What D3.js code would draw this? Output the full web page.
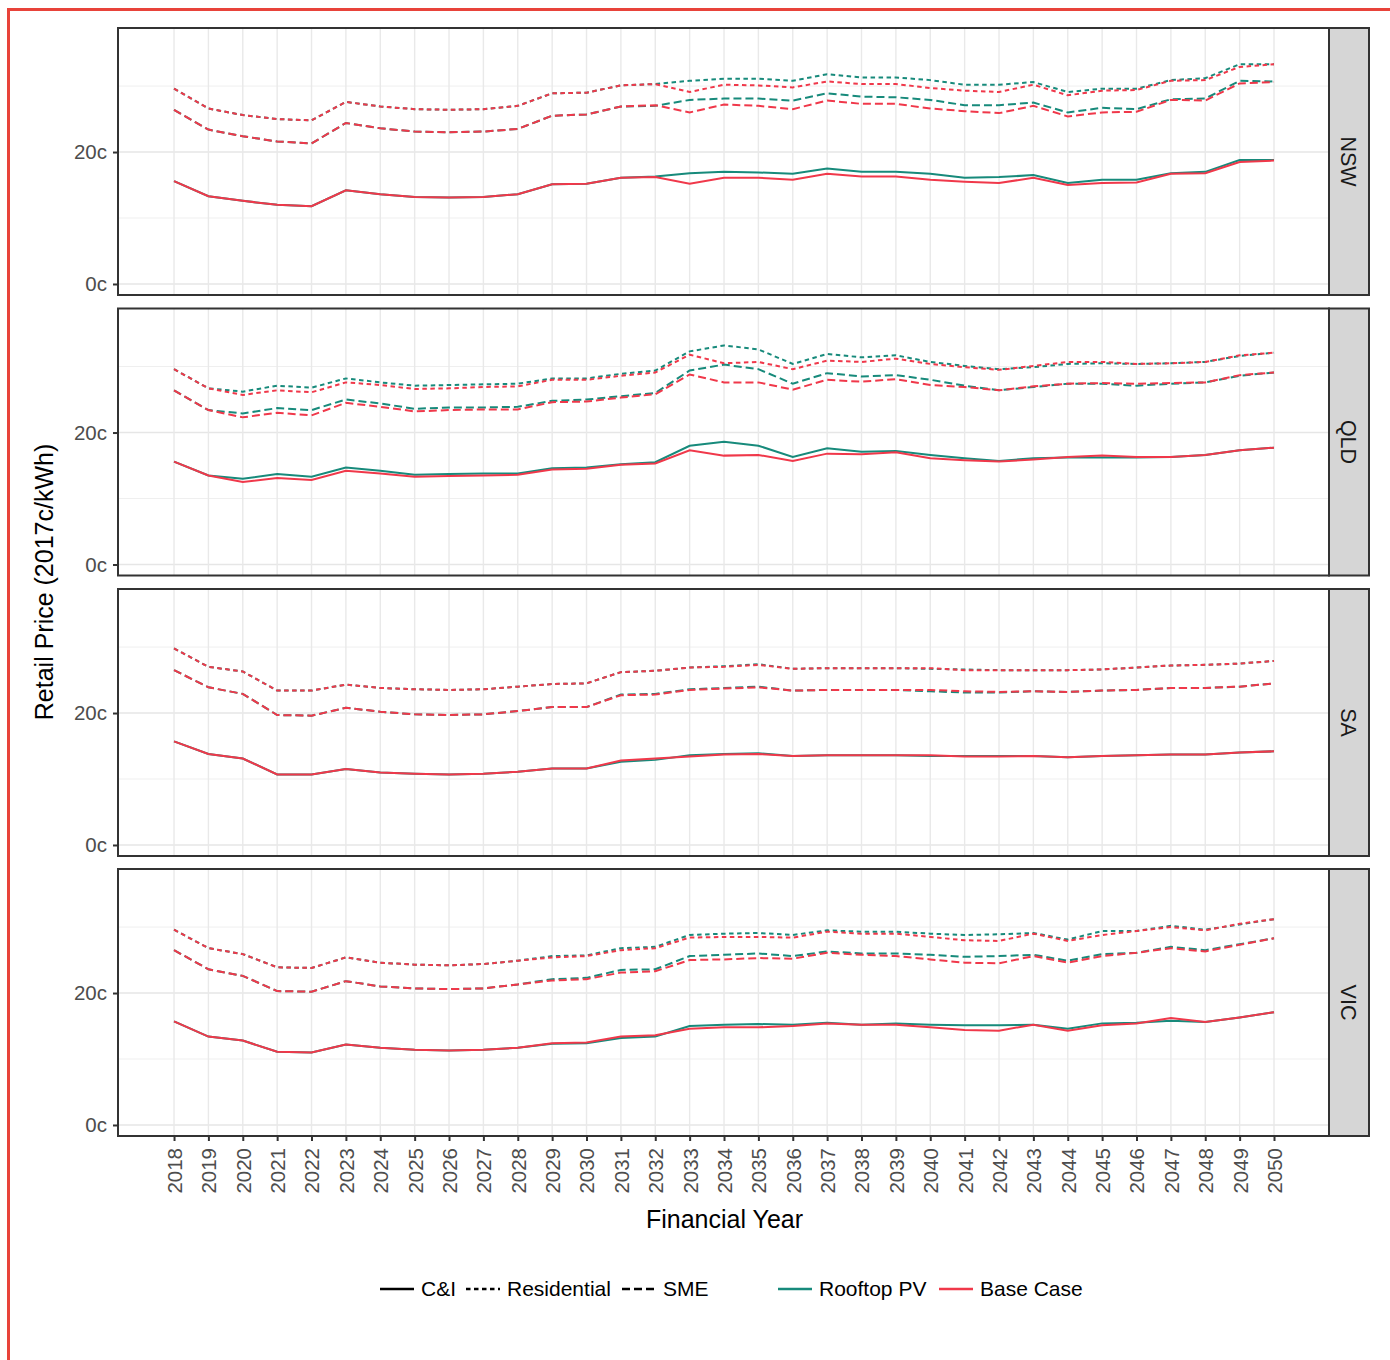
<!DOCTYPE html>
<html><head><meta charset="utf-8">
<script src="https://cdn.jsdelivr.net/npm/d3@7"></script>
<style>
html,body{margin:0;padding:0;background:#fff;}
svg{display:block;font-family:"Liberation Sans",Arial,Helvetica,sans-serif;}
</style></head>
<body><svg id="chart" width="1390" height="1360"></svg>
<script>
const years = d3.range(2018, 2051);
const states = ["NSW", "QLD", "SA", "VIC"];
const yTicks = [0, 20];
const yMinor = [10, 30];

// NSW
const nswResPV   = [29.6,26.6,25.6,25.0,24.8,27.6,26.9,26.5,26.4,26.5,27.0,28.9,29.0,30.1,30.3,30.8,31.1,31.1,30.8,31.8,31.3,31.3,30.9,30.2,30.2,30.6,29.1,29.6,29.6,30.9,31.2,33.3,33.3];
const nswResBase = [29.6,26.6,25.6,25.0,24.8,27.6,26.9,26.5,26.4,26.5,27.0,28.9,29.0,30.1,30.3,29.1,30.2,30.1,29.8,30.7,30.3,30.3,29.7,29.3,29.1,30.2,28.6,29.3,29.4,30.8,30.9,32.9,33.3];
const nswSmePV   = [26.4,23.4,22.4,21.6,21.3,24.4,23.6,23.1,23.0,23.1,23.5,25.5,25.7,26.9,27.0,27.9,28.1,28.1,27.8,28.9,28.4,28.3,27.9,27.1,27.1,27.5,26.0,26.7,26.5,28.0,28.1,30.8,30.7];
const nswSmeBase = [26.4,23.4,22.4,21.6,21.3,24.4,23.6,23.1,23.0,23.1,23.5,25.5,25.7,26.9,27.1,26.0,27.2,27.0,26.5,27.8,27.3,27.3,26.6,26.2,25.9,27.0,25.4,26.0,26.1,27.9,27.8,30.4,30.6];
const nswCiPV    = [15.6,13.3,12.6,12.0,11.8,14.2,13.6,13.2,13.1,13.2,13.6,15.1,15.2,16.1,16.3,16.8,17.0,16.9,16.7,17.5,17.0,17.0,16.7,16.1,16.2,16.5,15.3,15.8,15.8,16.8,17.0,18.8,18.8];
const nswCiBase  = [15.6,13.3,12.6,12.0,11.8,14.2,13.6,13.2,13.1,13.2,13.6,15.1,15.2,16.1,16.2,15.2,16.1,16.1,15.8,16.7,16.3,16.3,15.8,15.5,15.3,16.1,15.0,15.3,15.4,16.7,16.8,18.5,18.7];
// QLD
const qldResPV   = [29.6,26.7,26.2,27.1,26.8,28.2,27.6,27.1,27.2,27.3,27.4,28.2,28.2,28.9,29.4,32.3,33.2,32.6,30.4,31.9,31.4,31.7,30.7,30.1,29.6,29.9,30.4,30.5,30.4,30.5,30.7,31.6,32.1];
const qldResBase = [29.6,26.7,25.7,26.4,26.1,27.6,27.2,26.6,26.7,26.9,27.0,28.0,28.0,28.6,29.1,31.8,30.5,30.7,29.6,30.9,30.7,31.2,30.4,29.9,29.5,30.1,30.7,30.7,30.4,30.5,30.7,31.7,32.1];
const qldSmePV   = [26.4,23.4,22.9,23.7,23.4,25.0,24.4,23.6,23.8,23.8,23.9,24.8,25.0,25.5,26.0,29.4,30.3,29.6,27.4,29.0,28.5,28.7,28.0,27.1,26.4,26.9,27.4,27.4,27.1,27.4,27.6,28.6,29.1];
const qldSmeBase = [26.4,23.4,22.3,23.0,22.6,24.5,23.9,23.2,23.4,23.5,23.5,24.6,24.7,25.3,25.8,28.8,27.6,27.6,26.5,28.0,27.7,28.1,27.2,26.9,26.4,27.0,27.4,27.5,27.4,27.5,27.6,28.7,29.1];
const qldCiPV    = [15.6,13.5,13.0,13.7,13.3,14.7,14.2,13.6,13.7,13.8,13.8,14.6,14.7,15.2,15.5,18.0,18.6,18.0,16.3,17.6,17.1,17.2,16.6,16.1,15.7,16.1,16.2,16.2,16.2,16.3,16.6,17.3,17.7];
const qldCiBase  = [15.6,13.5,12.5,13.1,12.8,14.2,13.8,13.3,13.4,13.5,13.6,14.4,14.5,15.1,15.3,17.3,16.5,16.6,15.7,16.8,16.7,17.0,16.1,15.8,15.6,15.9,16.3,16.5,16.3,16.3,16.6,17.3,17.7];
// SA
const saResPV    = [29.8,27.0,26.3,23.4,23.4,24.3,23.8,23.6,23.5,23.6,24.0,24.4,24.5,26.2,26.4,26.9,27.1,27.4,26.7,26.8,26.8,26.8,26.7,26.6,26.5,26.5,26.5,26.6,26.9,27.2,27.3,27.5,27.9];
const saResBase  = [29.8,27.0,26.3,23.4,23.4,24.3,23.8,23.6,23.5,23.6,24.0,24.4,24.5,26.2,26.4,26.9,27.0,27.3,26.7,26.8,26.8,26.8,26.8,26.5,26.5,26.5,26.5,26.6,26.9,27.2,27.3,27.5,27.9];
const saSmePV    = [26.5,23.9,22.9,19.7,19.6,20.8,20.2,19.8,19.7,19.8,20.3,20.9,20.9,22.8,22.9,23.6,23.8,24.0,23.4,23.5,23.5,23.5,23.3,23.1,23.1,23.3,23.2,23.4,23.5,23.8,23.8,24.0,24.5];
const saSmeBase  = [26.5,23.9,22.9,19.7,19.6,20.8,20.2,19.8,19.7,19.8,20.3,20.9,20.9,22.7,22.8,23.5,23.7,23.9,23.4,23.5,23.5,23.5,23.5,23.3,23.2,23.3,23.2,23.4,23.5,23.8,23.8,24.0,24.5];
const saCiPV     = [15.7,13.8,13.1,10.7,10.7,11.5,11.0,10.8,10.7,10.8,11.1,11.6,11.6,12.6,12.9,13.6,13.8,13.9,13.5,13.6,13.6,13.6,13.5,13.5,13.5,13.5,13.3,13.5,13.6,13.7,13.7,14.0,14.2];
const saCiBase   = [15.7,13.8,13.1,10.7,10.7,11.5,11.0,10.8,10.7,10.8,11.1,11.6,11.6,12.8,13.1,13.4,13.7,13.8,13.5,13.6,13.6,13.6,13.6,13.4,13.4,13.5,13.3,13.5,13.6,13.7,13.7,14.0,14.2];
// VIC
const vicResPV   = [29.6,26.8,25.9,23.9,23.8,25.4,24.6,24.3,24.2,24.4,24.9,25.6,25.7,26.8,27.0,28.8,29.0,29.1,28.8,29.5,29.3,29.3,29.0,28.8,28.9,29.1,28.1,29.4,29.4,30.2,29.6,30.4,31.2];
const vicResBase = [29.6,26.8,25.9,23.9,23.8,25.4,24.6,24.3,24.2,24.4,24.9,25.4,25.6,26.5,26.8,28.4,28.5,28.5,28.4,29.3,29.0,29.0,28.5,28.0,27.9,29.0,27.9,28.8,29.4,30.0,29.5,30.5,31.2];
const vicSmePV   = [26.5,23.6,22.6,20.3,20.2,21.8,21.0,20.7,20.6,20.7,21.3,22.1,22.3,23.5,23.6,25.6,25.8,26.0,25.6,26.3,26.0,26.0,25.8,25.5,25.6,25.8,24.9,25.9,26.1,27.0,26.5,27.4,28.3];
const vicSmeBase = [26.5,23.6,22.6,20.3,20.2,21.8,21.0,20.7,20.6,20.7,21.3,21.9,22.1,23.1,23.3,25.0,25.1,25.3,25.2,26.1,25.8,25.6,25.1,24.6,24.5,25.6,24.6,25.6,26.1,26.8,26.3,27.3,28.3];
const vicCiPV    = [15.7,13.4,12.8,11.1,11.0,12.2,11.7,11.4,11.3,11.4,11.7,12.3,12.4,13.2,13.4,15.0,15.2,15.3,15.2,15.5,15.2,15.4,15.2,15.1,15.1,15.2,14.6,15.4,15.5,15.8,15.6,16.3,17.1];
const vicCiBase  = [15.7,13.4,12.8,11.1,11.0,12.2,11.7,11.4,11.3,11.4,11.7,12.4,12.5,13.4,13.6,14.6,14.8,14.8,15.0,15.4,15.2,15.2,14.8,14.4,14.3,15.2,14.3,15.1,15.4,16.2,15.6,16.3,17.1];

const customerTypes = ["C&I", "Residential", "SME"];
const scenarios = ["Rooftop PV", "Base Case"];

const seriesByState = {
  NSW: {"C&I": [nswCiPV, nswCiBase], "Residential": [nswResPV, nswResBase], "SME": [nswSmePV, nswSmeBase]},
  QLD: {"C&I": [qldCiPV, qldCiBase], "Residential": [qldResPV, qldResBase], "SME": [qldSmePV, qldSmeBase]},
  SA:  {"C&I": [saCiPV, saCiBase],   "Residential": [saResPV, saResBase],   "SME": [saSmePV, saSmeBase]},
  VIC: {"C&I": [vicCiPV, vicCiBase], "Residential": [vicResPV, vicResBase], "SME": [vicSmePV, vicSmeBase]}
};

// ---- styling / layout ----
const colors = {"Rooftop PV": "#178a7b", "Base Case": "#f0384a"};
const dashes = {"C&I": null, "Residential": "4.5,3.5", "SME": "8,4"};
const L = 118, R = 1329, stripW = 40;
const panelTops = [28, 308.5, 589, 869];
const panelH = 267;
const FONT = "Liberation Sans, Arial, sans-serif";

const svg = d3.select("#chart");

// red frame
svg.append("rect").attr("x", 8.5).attr("y", 9.5).attr("width", 1420).attr("height", 1420)
  .attr("fill", "none").attr("stroke", "#e8433a").attr("stroke-width", 3);

const x = d3.scaleLinear().domain([2016.37, 2051.6]).range([L, R]);

states.forEach((st, i) => {
  const top = panelTops[i], bot = top + panelH;
  const y = d3.scaleLinear().domain([-1.67, 38.8]).range([bot, top]);
  const g = svg.append("g");

  g.selectAll(".ymin").data(yMinor).join("line")
    .attr("x1", L).attr("x2", R).attr("y1", d => y(d)).attr("y2", d => y(d))
    .attr("stroke", "#efefef").attr("stroke-width", 1);
  g.selectAll(".ymaj").data(yTicks).join("line")
    .attr("x1", L).attr("x2", R).attr("y1", d => y(d)).attr("y2", d => y(d))
    .attr("stroke", "#e6e6e6").attr("stroke-width", 1.6);
  g.selectAll(".xg").data(years).join("line")
    .attr("x1", d => x(d)).attr("x2", d => x(d)).attr("y1", top).attr("y2", bot)
    .attr("stroke", "#e9e9e9").attr("stroke-width", 1.4);

  const line = d3.line().x((d, k) => x(years[k])).y(d => y(d));
  scenarios.forEach((sc, si) => {
    customerTypes.forEach(ct => {
      g.append("path").datum(seriesByState[st][ct][si])
        .attr("d", line).attr("fill", "none")
        .attr("stroke", colors[sc]).attr("stroke-width", 2)
        .attr("stroke-dasharray", dashes[ct]);
    });
  });

  g.append("rect").attr("x", L).attr("y", top).attr("width", R - L).attr("height", panelH)
    .attr("fill", "none").attr("stroke", "#333").attr("stroke-width", 2);
  g.append("rect").attr("x", R).attr("y", top).attr("width", stripW).attr("height", panelH)
    .attr("fill", "#d6d6d6").attr("stroke", "#333").attr("stroke-width", 2);
  g.append("text").attr("transform", `translate(${R + stripW / 2},${top + panelH / 2}) rotate(90)`)
    .attr("text-anchor", "middle").attr("dy", "0.35em")
    .attr("font-size", 21.5).attr("fill", "#1a1a1a").text(st);

  const ax = g.append("g").attr("transform", `translate(${L},0)`)
    .call(d3.axisLeft(y).tickValues(yTicks).tickFormat(d => d + "c").tickSize(5).tickPadding(6));
  ax.select(".domain").remove();
  ax.selectAll("line").attr("stroke", "#333").attr("stroke-width", 2);
  ax.selectAll("text").attr("font-size", 20.5).attr("fill", "#4d4d4d").attr("font-family", FONT);

  if (i === states.length - 1) {
    const xa = g.append("g").attr("transform", `translate(0,${bot})`)
      .call(d3.axisBottom(x).tickValues(years).tickFormat(d3.format("d")).tickSize(5).tickPadding(4));
    xa.select(".domain").remove();
    xa.selectAll("line").attr("stroke", "#333").attr("stroke-width", 2);
    xa.selectAll("text").attr("font-size", 20.5).attr("fill", "#4d4d4d")
      .attr("font-family", FONT)
      .attr("transform", "rotate(-90)").attr("text-anchor", "end")
      .attr("x", -12).attr("y", 0).attr("dy", "0.36em");
  }
});

svg.append("text").attr("x", (L + R) / 2 + 1).attr("y", 1228).attr("text-anchor", "middle")
  .attr("font-size", 25).attr("fill", "#000").text("Financial Year");
svg.append("text").attr("transform", "translate(53,582) rotate(-90)").attr("text-anchor", "middle")
  .attr("font-size", 25).attr("fill", "#000").text("Retail Price (2017c/kWh)");

const legY = 1289;
const legTypeX = [380, 466, 622];
customerTypes.forEach((ct, k) => {
  svg.append("line").attr("x1", legTypeX[k]).attr("x2", legTypeX[k] + 34).attr("y1", legY).attr("y2", legY)
    .attr("stroke", "#000").attr("stroke-width", 2.4).attr("stroke-dasharray", dashes[ct]);
  svg.append("text").attr("x", legTypeX[k] + 41).attr("y", legY).attr("dy", "0.35em")
    .attr("font-size", 21).attr("fill", "#000").text(ct);
});
const legScX = [778, 939];
scenarios.forEach((sc, k) => {
  svg.append("line").attr("x1", legScX[k]).attr("x2", legScX[k] + 34).attr("y1", legY).attr("y2", legY)
    .attr("stroke", colors[sc]).attr("stroke-width", 2.4);
  svg.append("text").attr("x", legScX[k] + 41).attr("y", legY).attr("dy", "0.35em")
    .attr("font-size", 21).attr("fill", "#000").text(sc);
});
</script></body></html>
